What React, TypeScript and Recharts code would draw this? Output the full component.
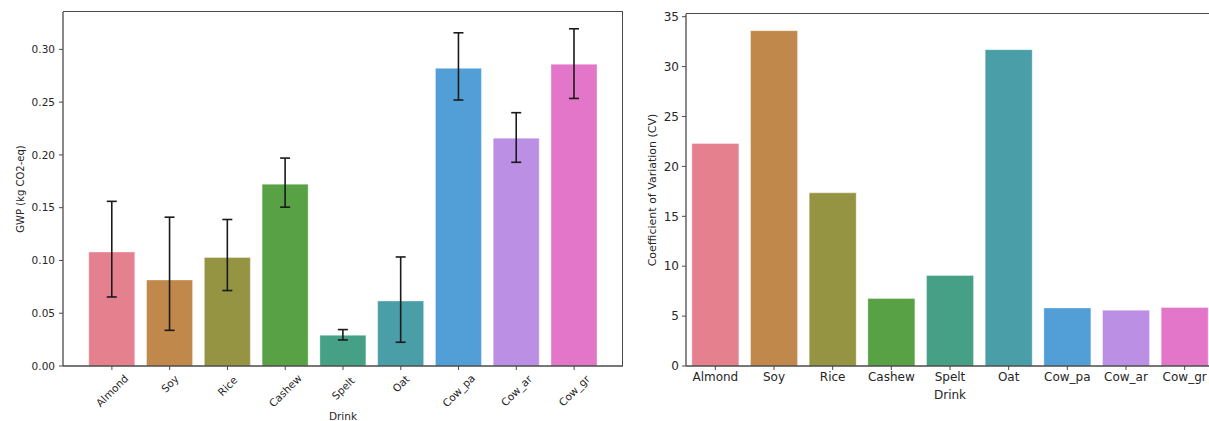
import React from "react";
import { BarChart, Bar, XAxis, YAxis, ErrorBar, Cell } from "recharts";

const drinks = ["Almond", "Soy", "Rice", "Cashew", "Spelt", "Oat", "Cow_pa", "Cow_ar", "Cow_gr"];
const gwpMean = [0.108, 0.0815, 0.1028, 0.1723, 0.0291, 0.0616, 0.282, 0.2159, 0.286];
const gwpLow = [0.0654, 0.0338, 0.0715, 0.1505, 0.0247, 0.0225, 0.252, 0.193, 0.2535];
const gwpHigh = [0.156, 0.141, 0.1388, 0.197, 0.0345, 0.1033, 0.3157, 0.24, 0.3195];
const cvValues = [22.3, 33.6, 17.35, 6.76, 9.07, 31.7, 5.82, 5.59, 5.86];
const colors = ["#e5808f", "#c0884a", "#959443", "#58a144", "#46a085", "#499ea8", "#529fd7", "#bb8fe4", "#e376c9"];
const gwpTicks = [0, 0.05, 0.1, 0.15, 0.2, 0.25, 0.3];
const cvTicks = [0, 5, 10, 15, 20, 25, 30, 35];

const gwpData = drinks.map((d, i) => ({
  name: d,
  value: gwpMean[i],
  err: [gwpMean[i] - gwpLow[i], gwpHigh[i] - gwpMean[i]],
}));
const cvData = drinks.map((d, i) => ({ name: d, value: cvValues[i] }));

const FONT = "DejaVu Sans, sans-serif";
const TXT = "#262626";
const AX = "#4a4a4a";

const RotTick = (props: any) => {
  const { x, y, payload } = props;
  const label = String(payload.value);
  const w = label.length * 6.5;
  const h = 10.5;
  const half = ((w + h) * 0.7071) / 2;
  const cy = y + half;
  return (
    <text
      x={x}
      y={cy}
      transform={`rotate(-45, ${x}, ${cy})`}
      textAnchor="middle"
      dominantBaseline="central"
      fontSize={10.5}
      fontFamily={FONT}
      fill={TXT}
    >
      {label}
    </text>
  );
};

export default function App() {
  return (
    <div style={{ position: "absolute", left: 0, top: 0, width: 1209, height: 421, overflow: "hidden", background: "#fff" }}>
      <div style={{ position: "absolute", left: 0, top: 0 }}>
        <BarChart width={630} height={421} data={gwpData} margin={{ top: 12, right: 7, bottom: 0, left: 0 }} barCategoryGap="10%">
          <XAxis
            dataKey="name"
            height={55}
            padding={{ left: 20, right: 20 }}
            tick={<RotTick />}
            tickSize={4}
            tickMargin={3}
            interval={0}
            axisLine={{ stroke: AX, strokeWidth: 1.3 }}
            tickLine={{ stroke: AX }}
            label={{ value: "Drink", position: "insideBottom", offset: 0, dy: -1, fontSize: 10.5, fontFamily: FONT, fill: TXT }}
          />
          <YAxis
            width={63}
            domain={[0, 0.3354]}
            ticks={gwpTicks}
            allowDataOverflow
            tickFormatter={(v: number) => v.toFixed(2)}
            tickSize={4}
            tickMargin={4}
            tick={{ fontSize: 10.5, fontFamily: FONT, fill: TXT }}
            axisLine={{ stroke: AX, strokeWidth: 1.3 }}
            tickLine={{ stroke: AX }}
            label={{ value: "GWP (kg CO2-eq)", angle: -90, position: "insideLeft", offset: 0, dx: 20, fontSize: 10, fontFamily: FONT, fill: TXT, style: { textAnchor: "middle" } }}
          />
          <Bar dataKey="value" isAnimationActive={false} stroke="#ffffff" strokeOpacity={0.35} strokeWidth={1}>
            {gwpData.map((d, i) => (
              <Cell key={d.name} fill={colors[i]} />
            ))}
            <ErrorBar dataKey="err" width={5} stroke="#1a1a1a" strokeWidth={1.6} direction="y" />
          </Bar>
        </BarChart>
        <div style={{ position: "absolute", left: 63, top: 11.4, width: 560, height: 0, borderTop: `1.3px solid ${AX}`, pointerEvents: "none" }} />
        <div style={{ position: "absolute", left: 622.4, top: 11.4, width: 0, height: 354.6, borderLeft: `1.3px solid ${AX}`, pointerEvents: "none" }} />
      </div>
      <div style={{ position: "absolute", left: 640, top: 0 }}>
        <BarChart width={580} height={421} data={cvData} margin={{ top: 14, right: 6, bottom: 0, left: 0 }} barCategoryGap="10%">
          <XAxis
            dataKey="name"
            height={55}
            tickSize={4}
            tickMargin={2}
            interval={0}
            tick={{ fontSize: 12, fontFamily: FONT, fill: TXT }}
            axisLine={{ stroke: AX, strokeWidth: 1.3 }}
            tickLine={{ stroke: AX }}
            label={{ value: "Drink", position: "insideBottom", offset: 0, dy: -22, fontSize: 12, fontFamily: FONT, fill: TXT }}
          />
          <YAxis
            width={46}
            domain={[0, 35.27]}
            ticks={cvTicks}
            allowDataOverflow
            tickSize={4}
            tickMargin={3}
            tick={{ fontSize: 12, fontFamily: FONT, fill: TXT }}
            axisLine={{ stroke: AX, strokeWidth: 1.3 }}
            tickLine={{ stroke: AX }}
            label={{ value: "Coefficient of Variation (CV)", angle: -90, position: "insideLeft", offset: 0, dx: 12, fontSize: 11, fontFamily: FONT, fill: TXT, style: { textAnchor: "middle" } }}
          />
          <Bar dataKey="value" isAnimationActive={false} stroke="#ffffff" strokeOpacity={0.35} strokeWidth={1}>
            {cvData.map((d, i) => (
              <Cell key={d.name} fill={colors[i]} />
            ))}
          </Bar>
        </BarChart>
        <div style={{ position: "absolute", left: 46, top: 13.4, width: 540, height: 0, borderTop: `1.3px solid ${AX}`, pointerEvents: "none" }} />
      </div>
    </div>
  );
}
